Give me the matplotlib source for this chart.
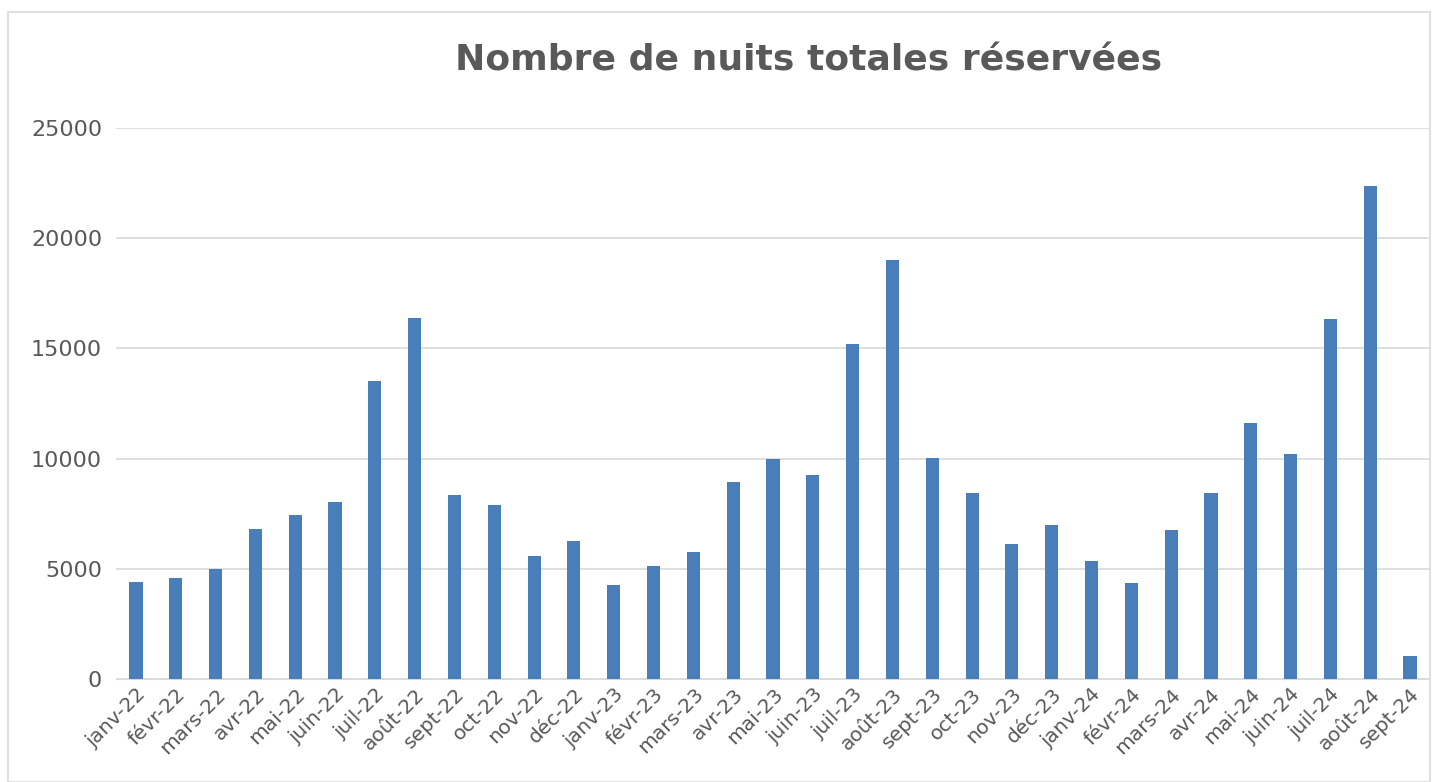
import numpy as np
import matplotlib.pyplot as plt
from matplotlib.patches import Rectangle

mois = ['janv-22', 'févr-22', 'mars-22', 'avr-22', 'mai-22', 'juin-22', 'juil-22',
        'août-22', 'sept-22', 'oct-22', 'nov-22', 'déc-22',
        'janv-23', 'févr-23', 'mars-23', 'avr-23', 'mai-23', 'juin-23', 'juil-23',
        'août-23', 'sept-23', 'oct-23', 'nov-23', 'déc-23',
        'janv-24', 'févr-24', 'mars-24', 'avr-24', 'mai-24', 'juin-24', 'juil-24',
        'août-24', 'sept-24']
nuits = [4400, 4600, 5000, 6800, 7450, 8050, 13500, 16380, 8330, 7880, 5580, 6280,
         4250, 5150, 5750, 8930, 9980, 9250, 15200, 19000, 10050, 8460, 6130, 7000,
         5350, 4350, 6780, 8430, 11600, 10200, 16350, 22350, 1040]

gris = '#595959'

fig = plt.figure(figsize=(14.38, 7.82), dpi=100)
ax = fig.add_axes([0.0807, 0.1317, 0.9137, 0.7046])

x = np.arange(len(mois))
ax.bar(x, nuits, width=0.33, color='#4a7ebb', zorder=3)

ax.set_xlim(-0.5, len(mois) - 0.5)
ax.set_ylim(0, 25000)
ax.set_yticks(np.arange(0, 25001, 5000))
ax.grid(axis='y', color='#d9d9d9', linewidth=1.2, zorder=0)
ax.set_xticks(x)
ax.set_xticklabels(mois, rotation=45, ha='right', rotation_mode='anchor',
                   fontsize=14.5, color=gris)
ax.tick_params(axis='y', labelsize=16, labelcolor=gris, length=0, pad=10)
ax.tick_params(axis='x', length=0, pad=4)
for s in ['top', 'right', 'left']:
    ax.spines[s].set_visible(False)
ax.spines['bottom'].set_color('#d9d9d9')

fig.text(0.562, 0.923, 'Nombre de nuits totales réservées', ha='center', va='center',
         fontsize=26, fontweight='bold', color=gris)

fig.patches.append(Rectangle((8 / 1438, 0), 1422 / 1438, 770 / 782, transform=fig.transFigure,
                             fill=False, edgecolor='#e0e0e0', linewidth=1.5))

fig.savefig('out.png', dpi=100)
